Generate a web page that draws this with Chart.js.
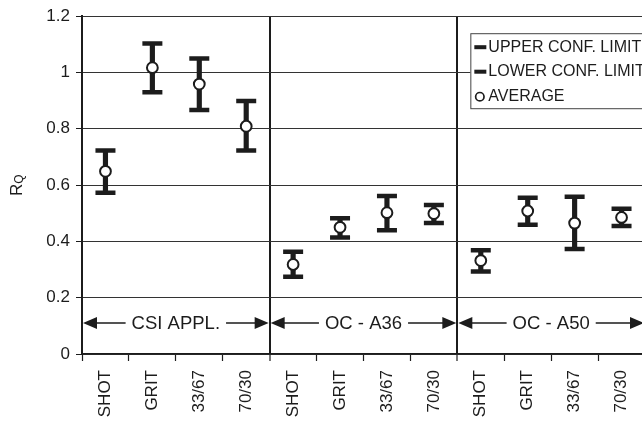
<!DOCTYPE html>
<html>
<head>
<meta charset="utf-8">
<script src="https://cdn.jsdelivr.net/npm/chart.js@4/dist/chart.umd.min.js"></script>
<style>
  html, body { margin: 0; padding: 0; background: #fff; overflow: hidden; width: 642px; height: 421px; }
  #wrap { position: absolute; left: 0; top: 0; width: 660px; height: 421px; }
</style>
</head>
<body>
<div id="wrap"><canvas id="c" width="660" height="421"></canvas></div>
<script>
const categories = ['SHOT','GRIT','33/67','70/30','SHOT','GRIT','33/67','70/30','SHOT','GRIT','33/67','70/30'];
const groups = ['CSI APPL.','OC - A36','OC - A50'];
const upperLimit = [0.723,1.103,1.050,0.899, 0.363,0.482,0.561,0.529, 0.369,0.555,0.559,0.516];
const lowerLimit = [0.573,0.930,0.867,0.723, 0.274,0.414,0.440,0.465, 0.293,0.459,0.373,0.455];
const average    = [0.649,1.017,0.959,0.809, 0.318,0.450,0.502,0.499, 0.332,0.508,0.465,0.485];
const yTickLabels = ['0','0.2','0.4','0.6','0.8','1','1.2'];
const legendLabels = ['UPPER CONF. LIMIT','LOWER CONF. LIMIT','AVERAGE'];

const INK = '#1c1c1c';
const FONT = '"Liberation Sans", Arial, Helvetica, sans-serif';

const stems = categories.map((_, i) => [lowerLimit[i], upperLimit[i]]);

const groupPlugin = {
  id: 'groupArrows',
  afterDatasetsDraw(chart) {
    const ctx = chart.ctx;
    const xs = chart.scales.x, ys = chart.scales.y;
    const y = ys.getPixelForValue(0.11);
    ctx.save();
    ctx.font = '18.5px ' + FONT;
    ctx.fillStyle = INK;
    ctx.strokeStyle = INK;
    ctx.lineWidth = 1.6;
    ctx.textBaseline = 'middle';
    ctx.textAlign = 'center';
    groups.forEach((g, gi) => {
      const x0 = xs.getPixelForValue(gi * 4 - 0.5);
      const x1 = xs.getPixelForValue(gi * 4 + 3.5);
      const cx = (x0 + x1) / 2;
      const tw = ctx.measureText(g).width;
      const gap = 6;
      ctx.beginPath();
      ctx.moveTo(x0 + 10, y); ctx.lineTo(cx - tw / 2 - gap, y);
      ctx.moveTo(cx + tw / 2 + gap, y); ctx.lineTo(x1 - 10, y);
      ctx.stroke();
      ctx.beginPath();
      ctx.moveTo(x0 + 1, y); ctx.lineTo(x0 + 15, y - 6); ctx.lineTo(x0 + 15, y + 6); ctx.closePath();
      ctx.moveTo(x1 - 1, y); ctx.lineTo(x1 - 15, y - 6); ctx.lineTo(x1 - 15, y + 6); ctx.closePath();
      ctx.fill();
      ctx.fillText(g, cx, y + 1);
    });
    // legend box
    const lx = xs.getPixelForValue(7.5) + 13;
    const ly = chart.chartArea.top + 17;
    ctx.fillStyle = '#fff';
    ctx.fillRect(lx, ly, 220, 75);
    ctx.strokeStyle = '#444';
    ctx.lineWidth = 1;
    ctx.strokeRect(lx + 0.5, ly + 0.5, 220, 75);
    ctx.font = '16px ' + FONT;
    ctx.textAlign = 'left';
    ctx.fillStyle = INK;
    legendLabels.forEach((t, i) => {
      const ry = ly + 13 + i * 24.5;
      if (i < 2) {
        ctx.fillRect(lx + 4, ry - 1, 12, 4);
      } else {
        ctx.beginPath();
        ctx.lineWidth = 1.7;
        ctx.strokeStyle = INK;
        ctx.arc(lx + 9.5, ry + 1.5, 4.2, 0, Math.PI * 2);
        ctx.stroke();
      }
      ctx.fillText(t, lx + 18, ry + 1);
    });
    ctx.restore();
  },
  afterDraw(chart) {
    const ctx = chart.ctx;
    const ca = chart.chartArea;
    ctx.save();
    ctx.translate(17, (ca.top + ca.bottom) / 2);
    ctx.rotate(-Math.PI / 2);
    ctx.fillStyle = INK;
    ctx.textBaseline = 'middle';
    ctx.font = '17px ' + FONT;
    const rw = ctx.measureText('R').width;
    ctx.font = '12px ' + FONT;
    const qw = ctx.measureText('Q').width;
    const start = -(rw + qw) / 2;
    ctx.font = '17px ' + FONT;
    ctx.textAlign = 'left';
    ctx.fillText('R', start, 0);
    ctx.font = '12px ' + FONT;
    ctx.fillText('Q', start + rw, 3);
    ctx.restore();
  }
};

new Chart(document.getElementById('c'), {
  type: 'bar',
  data: {
    labels: categories,
    datasets: [
      {
        type: 'line', label: 'AVERAGE', data: average, showLine: false, order: 0,
        pointStyle: 'circle', pointRadius: 5.4, pointBorderWidth: 2,
        pointBackgroundColor: '#fff', pointBorderColor: INK
      },
      {
        type: 'line', label: 'UPPER CONF. LIMIT', data: upperLimit, showLine: false, order: 1,
        pointStyle: 'line', pointRadius: 10, pointBorderWidth: 4.5, pointBorderColor: INK, borderColor: INK
      },
      {
        type: 'line', label: 'LOWER CONF. LIMIT', data: lowerLimit, showLine: false, order: 1,
        pointStyle: 'line', pointRadius: 10, pointBorderWidth: 4.5, pointBorderColor: INK, borderColor: INK
      },
      {
        type: 'bar', label: 'range', data: stems, order: 2,
        backgroundColor: INK, barThickness: 4.5, borderWidth: 0
      }
    ]
  },
  options: {
    responsive: false,
    animation: false,
    events: [],
    layout: { padding: { top: 14, right: 15, left: 0, bottom: 0 } },
    plugins: { legend: { display: false }, tooltip: { enabled: false } },
    scales: {
      x: {
        offset: true,
        grid: {
          offset: true,
          drawTicks: true,
          tickLength: 7,
          tickColor: INK,
          tickWidth: 1.2,
          color: (c) => (c.index === 4 || c.index === 8) ? INK : 'rgba(0,0,0,0)',
          lineWidth: (c) => (c.index === 4 || c.index === 8) ? 2 : 1
        },
        border: { display: true, color: INK, width: 1.5 },
        ticks: {
          autoSkip: false, minRotation: 90, maxRotation: 90, padding: 9,
          color: INK, font: { family: FONT, size: 17 }
        },
        afterFit: (s) => { s.height = 421 - 354; }
      },
      y: {
        min: 0, max: 1.2,
        grid: { color: '#333', lineWidth: 1, tickLength: 6, tickColor: INK, drawTicks: true },
        border: { display: true, color: INK, width: 2 },
        ticks: {
          stepSize: 0.2, padding: 6, color: INK,
          font: { family: FONT, size: 17 },
          callback: (v, i) => yTickLabels[i]
        },
        afterFit: (s) => { s.width = 82; }
      }
    }
  },
  plugins: [groupPlugin]
});
</script>
</body>
</html>
